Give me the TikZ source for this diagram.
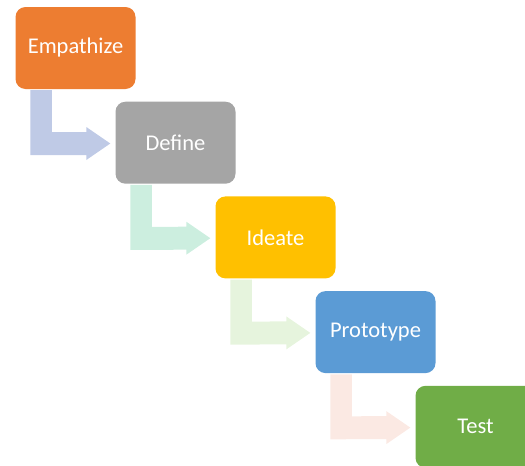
\documentclass[tikz,border=0pt]{standalone}
\usepackage{fontspec}
\setmainfont{Carlito}
\usetikzlibrary{calc}
\definecolor{cEmp}{HTML}{ED7D31}
\definecolor{cDef}{HTML}{A5A5A5}
\definecolor{cIde}{HTML}{FFC000}
\definecolor{cPro}{HTML}{5B9BD5}
\definecolor{cTes}{HTML}{70AD47}
\definecolor{aOne}{HTML}{BFCAE6}
\definecolor{aTwo}{HTML}{CCEEDF}
\definecolor{aThr}{HTML}{E6F4DD}
\definecolor{aFou}{HTML}{FBE9E3}
\tikzset{
  stagebox/.style={rectangle, rounded corners=10pt, minimum width=120pt, minimum height=82pt,
    inner sep=0pt, text=white, font=\fontsize{22.5}{26}\selectfont},
}
\newcommand{\bentarrow}[3]{%
  \fill[#3] ($(#1.south west)+(15,1)$) -- ($(#1.south west)+(36.5,1)$)
    -- ($(#1.south west)+(36.5,43)$) -- ($(#2.west)+(-29,-10.7)$)
    -- ($(#2.west)+(-29,-15.7)$) -- ($(#2.west)+(-5,0.8)$)
    -- ($(#2.west)+(-29,17.3)$) -- ($(#2.west)+(-29,12.3)$)
    -- ($(#1.south west)+(15,66)$) -- cycle;}
\begin{document}
\begin{tikzpicture}[x=1pt,y=-1pt]
\useasboundingbox (0,0) rectangle (525,466);
\clip (0,0) rectangle (525,466);
\node[stagebox, fill=cEmp] (e) at (75.5,48) {Empathize};
\node[stagebox, fill=cDef] (d) at (175.5,142.7) {Define};
\node[stagebox, fill=cIde] (i) at (275.5,237.4) {Ideate};
\node[stagebox, fill=cPro] (p) at (375.5,332.1) {Prototype};
\node[stagebox, fill=cTes] (t) at (475.5,426.8) {Test};
\bentarrow{e}{d}{aOne}
\bentarrow{d}{i}{aTwo}
\bentarrow{i}{p}{aThr}
\bentarrow{p}{t}{aFou}
\end{tikzpicture}
\end{document}
